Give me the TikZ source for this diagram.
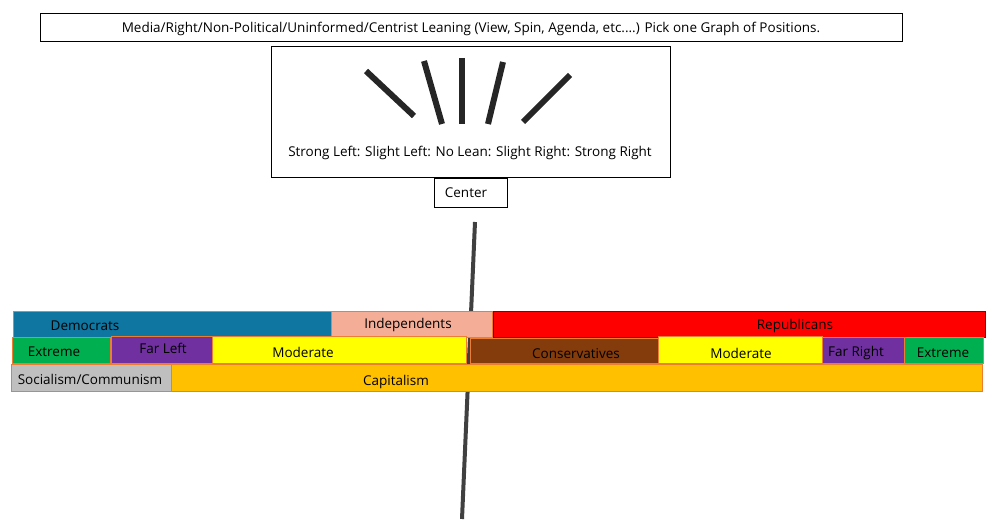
\documentclass[tikz,border=0pt]{standalone}
\usepackage{fontspec}
\setmainfont{Open Sans}
\usepackage{tikz}
\definecolor{demblue}{HTML}{0E76A0}
\definecolor{indsalmon}{HTML}{F4AE98}
\definecolor{edgeorange}{HTML}{ED7D31}
\definecolor{repred}{HTML}{FF0000}
\definecolor{repedge}{HTML}{1F2A3A}
\definecolor{extgreen}{HTML}{00B050}
\definecolor{farpurple}{HTML}{7030A0}
\definecolor{modyellow}{HTML}{FFFF00}
\definecolor{conbrown}{HTML}{843C0C}
\definecolor{socgray}{HTML}{BFBFBF}
\definecolor{capgold}{HTML}{FFC000}
\definecolor{stickgray}{HTML}{262626}
\definecolor{axisgray}{HTML}{404040}

\begin{document}
\begin{tikzpicture}[x=1pt, y=-1pt, font=\fontsize{13.5}{15}\selectfont,
    bar/.style={draw=edgeorange, line width=0.8pt},
    stick/.style={line width=6pt, stickgray},
    txt/.style={inner sep=0pt, text=black, yshift=-1.5pt}]
            \useasboundingbox (0,0) rectangle (989,529);

            % titel oben
            \draw[line width=0.8pt] (40,13) rectangle (902,41);
            \node[txt] (title) at (471,27) {Media/Right/Non-Political/Uninformed/Centrist Leaning (View, Spin, Agenda, etc....) Pick one Graph of Positions.};

            % kasten mit den staeben
            \draw[line width=0.8pt] (271,46) rectangle (670,177);
            \draw[stick] (366,71) -- (414,116);
            \draw[stick] (424,61) -- (442,124);
            \draw[stick] (462,58) -- (462,124);
            \draw[stick] (503,62) -- (488,124);
            \draw[stick] (570,75) -- (523,122);
            \node[txt] (lean) at (470,151) {Strong Left: Slight Left: No Lean: Slight Right: Strong Right};

            % center
            \draw[line width=0.8pt] (434,178) rectangle (507,207);
            \node[txt] (center) at (466,191) {Center};

            % senkrechte linie
            \coordinate (top) at (475,222);
            \coordinate (bottom) at (462,519);
            \draw[line width=4pt, axisgray] (top) -- (bottom);

            % parteien
            \draw[bar, fill=demblue] (13,311) rectangle (331,337);
            \draw[bar, fill=indsalmon] (331,311) rectangle (492,337);
            \draw[line width=0.8pt, draw=repedge, fill=repred] (493,311) rectangle (985,337);
            \node[txt] (dem) at (85,324) {Democrats};
            \node[txt] (ind) at (408,323) {Independents};
            \node[txt] (rep) at (795,324) {Republicans};

            % fluegel
            \draw[bar, fill=extgreen] (12,337) rectangle (110,363);
            \draw[bar, fill=farpurple] (111,336) rectangle (212,363);
            \draw[bar, fill=modyellow] (212,336) rectangle (466,363);
            \draw[bar, fill=conbrown] (470,338) rectangle (658,363);
            \draw[bar, fill=modyellow] (658,336) rectangle (822,363);
            \draw[bar, fill=farpurple] (822,337) rectangle (904,363);
            \draw[bar, fill=extgreen] (904,337) rectangle (983,363);
            \node[txt] (extl) at (54,350) {Extreme};
            \node[txt] (farl) at (163,347) {Far Left};
            \node[txt] (modl) at (303,351) {Moderate};
            \node[txt] (cons) at (576,352) {Conservatives};
            \node[txt] (modr) at (741,352) {Moderate};
            \node[txt] (farr) at (856,351) {Far Right};
            \node[txt] (extr) at (943,351) {Extreme};

            % wirtschaft
            \draw[bar, fill=socgray] (11,364) rectangle (171,391);
            \draw[bar, fill=capgold] (171,364) rectangle (982,391);
            \node[txt] (soc) at (90,378) {Socialism/Communism};
            \node[txt] (cap) at (396,380) {Capitalism};
        \end{tikzpicture}
\end{document}
